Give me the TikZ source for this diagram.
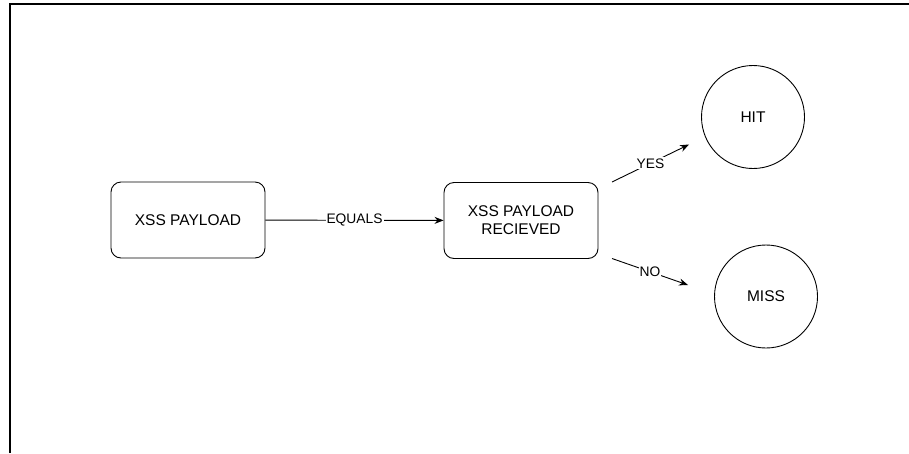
\documentclass[tikz,border=0pt]{standalone}
\usepackage{fontspec}
\setmainfont{Liberation Sans}
\usepackage{xcolor}
\usetikzlibrary{arrows.meta}

\begin{document}
\begin{tikzpicture}[x=1pt, y=-1pt,
    stepbox/.style={draw, line width=0.9pt, rounded corners=10pt, minimum width=154pt,
      minimum height=76pt, align=center, font=\fontsize{15.5}{18}\selectfont},
    endcircle/.style={draw, line width=0.9pt, circle, minimum size=103pt,
      font=\fontsize{15.5}{18}\selectfont},
    link/.style={line width=0.9pt, -{Stealth[length=9pt, width=7pt]}},
    linklabel/.style={fill=white, inner sep=1pt, font=\fontsize{13.8}{16}\selectfont}]
    \useasboundingbox (0,0) rectangle (909,453);
    \draw[line width=2pt] (9.5,453) -- (9.5,4) -- (909,4);
    % boxes
    \node[stepbox] (payload) at (188,220) {XSS PAYLOAD};
    \node[stepbox] (recv) at (521,220.5) {XSS PAYLOAD\\RECIEVED};
    \node[endcircle] (hit) at (753,117) {HIT};
    \node[endcircle] (miss) at (766,296.5) {MISS};
    % arrow ends
    \coordinate (yesS) at (612,182);
    \coordinate (yesE) at (689,144.5);
    \coordinate (noS) at (612,258.5);
    \coordinate (noE) at (688,285);
    \draw[link] (payload) -- node[linklabel] {EQUALS} (recv);
    \draw[link] (yesS) -- node[linklabel] {YES} (yesE);
    \draw[link] (noS) -- node[linklabel] {NO} (noE);
\end{tikzpicture}
\end{document}
